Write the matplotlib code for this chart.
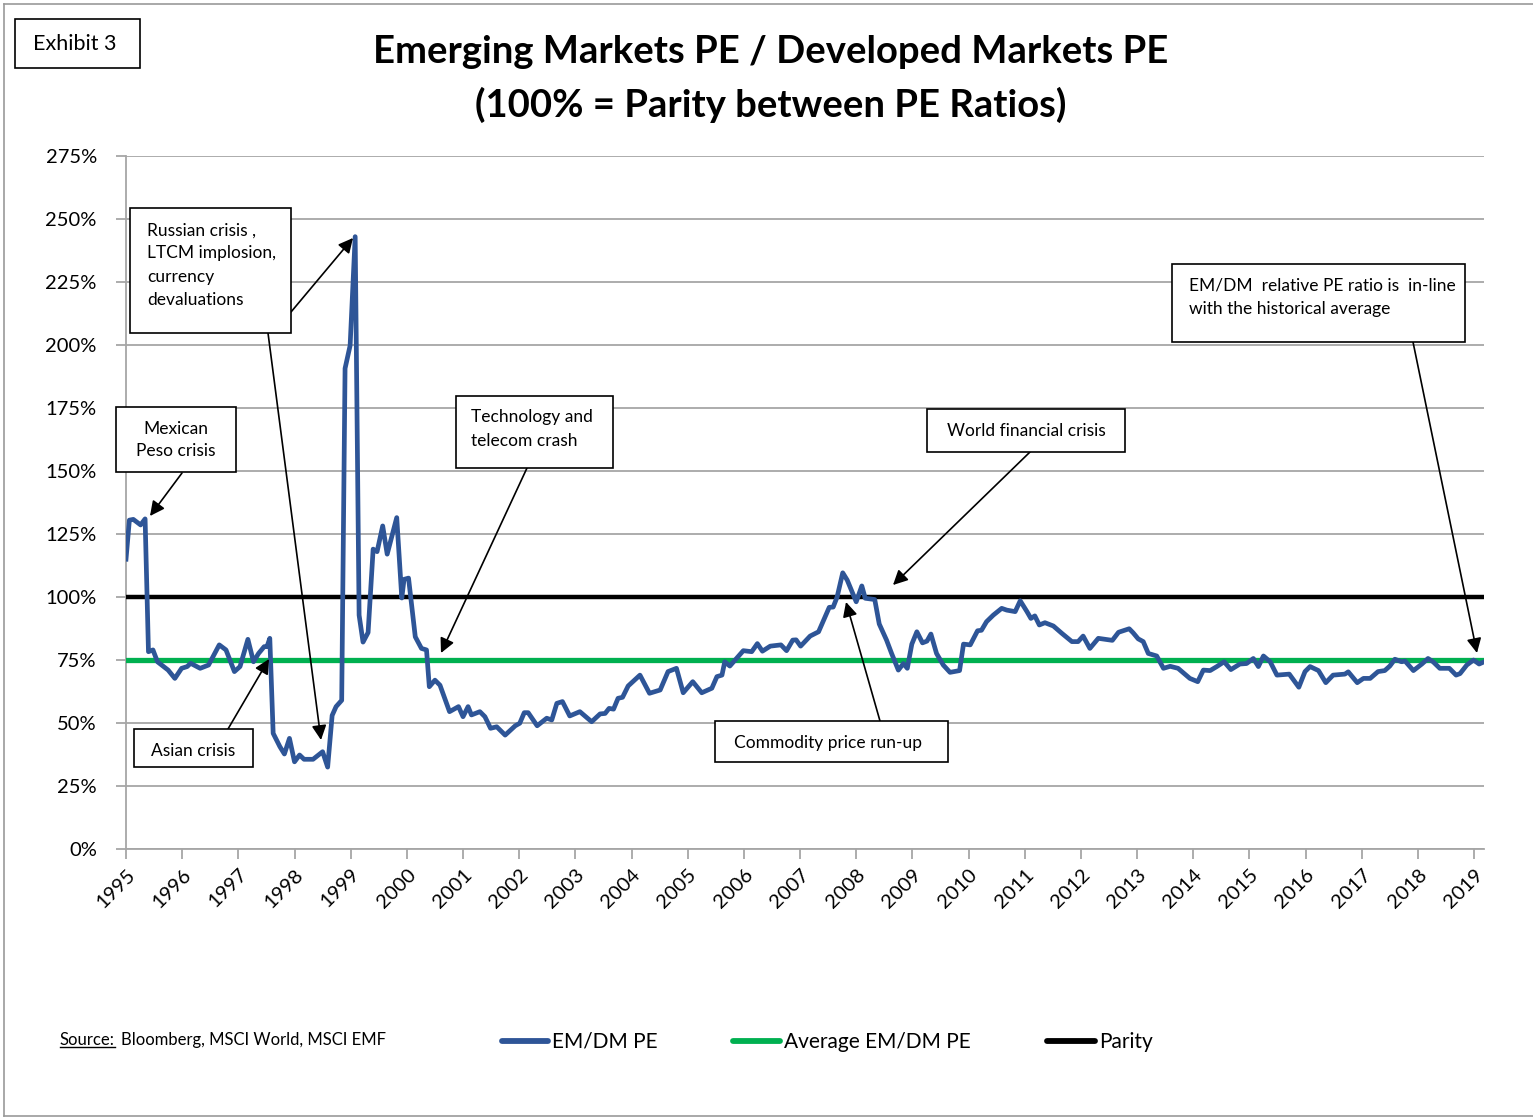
import matplotlib
matplotlib.use("Agg")
import matplotlib.pyplot as plt
from matplotlib.lines import Line2D
from matplotlib.patches import Rectangle
import numpy as np

plt.rcParams['font.family'] = ['Lato', 'DejaVu Sans']

# ---- data (decimal year, EM/DM PE ratio in %) ----
years = [1995.00, 1995.06, 1995.13, 1995.26, 1995.34, 1995.40, 1995.48, 1995.56, 1995.75, 1995.87,
         1995.99, 1996.09, 1996.15, 1996.32, 1996.47, 1996.66, 1996.78, 1996.93, 1997.03, 1997.17,
         1997.27, 1997.36, 1997.46, 1997.51, 1997.56, 1997.62, 1997.74, 1997.82, 1997.91, 1998.00,
         1998.09, 1998.17, 1998.33, 1998.50, 1998.59, 1998.67, 1998.74, 1998.84, 1998.90, 1998.99,
         1999.08, 1999.15, 1999.22, 1999.31, 1999.40, 1999.47, 1999.57, 1999.65, 1999.82, 1999.91,
         1999.95, 2000.03, 2000.15, 2000.26, 2000.35, 2000.40, 2000.50, 2000.59, 2000.76, 2000.92,
         2001.00, 2001.09, 2001.15, 2001.30, 2001.39, 2001.49, 2001.60, 2001.75, 2001.93, 2002.01,
         2002.09, 2002.16, 2002.32, 2002.49, 2002.58, 2002.67, 2002.77, 2002.90, 2003.08, 2003.29,
         2003.44, 2003.53, 2003.60, 2003.68, 2003.76, 2003.84, 2003.94, 2004.15, 2004.32, 2004.51,
         2004.65, 2004.80, 2004.92, 2005.09, 2005.25, 2005.43, 2005.52, 2005.61, 2005.66, 2005.75,
         2005.99, 2006.14, 2006.24, 2006.33, 2006.47, 2006.66, 2006.76, 2006.87, 2006.93, 2007.01,
         2007.18, 2007.33, 2007.52, 2007.59, 2007.66, 2007.76, 2007.84, 2008.00, 2008.10, 2008.16,
         2008.33, 2008.41, 2008.54, 2008.63, 2008.75, 2008.84, 2008.91, 2008.99, 2009.08, 2009.18,
         2009.26, 2009.33, 2009.43, 2009.55, 2009.67, 2009.84, 2009.91, 2010.03, 2010.16, 2010.23,
         2010.32, 2010.44, 2010.59, 2010.68, 2010.83, 2010.92, 2011.04, 2011.11, 2011.18, 2011.26,
         2011.36, 2011.51, 2011.66, 2011.84, 2011.95, 2012.04, 2012.16, 2012.31, 2012.43, 2012.56,
         2012.67, 2012.86, 2012.93, 2013.02, 2013.11, 2013.20, 2013.35, 2013.47, 2013.59, 2013.73,
         2013.94, 2014.08, 2014.18, 2014.30, 2014.42, 2014.55, 2014.67, 2014.83, 2014.95, 2015.07,
         2015.16, 2015.25, 2015.37, 2015.49, 2015.71, 2015.88, 2015.99, 2016.08, 2016.23, 2016.36,
         2016.49, 2016.70, 2016.76, 2016.92, 2017.03, 2017.15, 2017.29, 2017.41, 2017.50, 2017.59,
         2017.71, 2017.77, 2017.92, 2018.07, 2018.18, 2018.27, 2018.39, 2018.56, 2018.68, 2018.75,
         2018.87, 2018.99, 2019.09, 2019.18]
em_dm_pe = [115, 130.5, 130.8, 128.6, 131, 78.3, 79, 74.3, 71, 67.7,
            71.7, 72.4, 73.7, 71.7, 73, 81, 79, 70.4, 72.4, 83.2,
            74.3, 77.6, 80.3, 80.3, 83.6, 45.9, 40.6, 37.7, 43.9, 34.6,
            37.3, 35.6, 35.6, 38.6, 32.5, 53, 56.5, 59, 190.7, 199.8,
            243, 92.8, 82.1, 85.9, 119, 118, 128.2, 117, 131.5, 99.6,
            107, 107.5, 84.2, 79.6, 79, 64.4, 67, 65, 54.5, 56.5,
            52.5, 56.5, 53.2, 54.5, 52.5, 47.9, 48.5, 45.2, 48.9, 49.9,
            54.1, 54.1, 48.9, 51.9, 51.2, 57.8, 58.5, 52.8, 54.5, 50.5,
            53.6, 53.8, 55.8, 55.5, 59.8, 60.2, 64.7, 69, 61.8, 63.1,
            70.4, 71.7, 62, 66.4, 62, 63.8, 68.4, 69, 74.3, 72.6,
            78.7, 78.3, 81.5, 78.5, 80.5, 81, 78.7, 82.9, 83, 80.5,
            84.5, 86.2, 95.9, 96, 100, 109.6, 106.7, 98.1, 104.4, 99.5,
            99, 89.3, 82.9, 77.6, 71, 73.6, 71.7, 81.3, 86.2, 81.8,
            82.5, 85.3, 77.6, 73, 70.1, 70.8, 81.3, 81, 86.6, 86.8,
            90.2, 92.8, 95.5, 94.8, 94.2, 98.5, 94.2, 91.5, 92.5, 88.9,
            89.8, 88.5, 85.6, 82.3, 82.3, 84.5, 79.6, 83.6, 83.2, 82.8,
            86, 87.4, 85.8, 83.4, 82.3, 77.6, 76.6, 71.7, 72.5, 71.7,
            67.7, 66.4, 71, 70.8, 72.4, 74.3, 71.2, 73.4, 73.6, 75.6,
            72.4, 76.6, 74.3, 69, 69.4, 64.2, 70.4, 72.4, 70.8, 66,
            69, 69.4, 70.3, 66, 67.7, 67.7, 70.4, 70.8, 72.6, 75.3,
            74.3, 74.6, 70.8, 73.4, 75.6, 74.3, 71.7, 71.7, 69, 69.6,
            73, 75, 73.4, 74.3]
average_pe = 75
parity = 100
tick_years = list(range(1995, 2020))
y_ticks = [0, 25, 50, 75, 100, 125, 150, 175, 200, 225, 250, 275]

W, H = 1533, 1119
fig = plt.figure(figsize=(W / 100, H / 100), dpi=100)

def fp(x, y):
    return (x / W, 1 - y / H)

ax = fig.add_axes([126 / W, 1 - 849 / H, (1484 - 126) / W, (849 - 156) / H])
x0, x1 = 1995.0, 1995.0 + (1484 - 126) / 56.17
ax.set_xlim(x0, x1)
ax.set_ylim(0, 275)

grid_c = '#A6A6A6'
ax.set_yticks(y_ticks)
ax.set_yticklabels([f"{v}%" for v in y_ticks], fontsize=14.5)
ax.set_xticks(tick_years)
ax.set_xticklabels([str(y) for y in tick_years], rotation=45, ha='right', va='top',
                   rotation_mode='anchor', fontsize=14.5)
ax.yaxis.grid(True, color=grid_c, lw=1.3)
ax.set_axisbelow(True)
for s in ['top', 'right']:
    ax.spines[s].set_visible(False)
for s in ['left', 'bottom']:
    ax.spines[s].set_color(grid_c)
    ax.spines[s].set_linewidth(1.3)
ax.tick_params(axis='both', colors=grid_c, labelcolor='black', length=7, width=1.3)
ax.tick_params(axis='y', pad=14)
ax.tick_params(axis='x', pad=5)

l_em, = ax.plot(years, em_dm_pe, color='#2E5597', lw=3.4, zorder=4, solid_joinstyle='round')
l_avg = ax.axhline(average_pe, color='#00B050', lw=3.8, zorder=3)
l_par = ax.axhline(parity, color='black', lw=3.2, zorder=3)

# ---- figure border ----
fig.add_artist(Line2D([4 / W, 4 / W], [1 - 4 / H, 1 - 1116 / H], color='#999999', lw=1.2))
fig.add_artist(Line2D([4 / W, 1], [1 - 4 / H, 1 - 4 / H], color='#999999', lw=1.2))
fig.add_artist(Line2D([4 / W, 1], [1 - 1116 / H, 1 - 1116 / H], color='#999999', lw=1.2))

# ---- Exhibit box ----
def box(x0p, y0p, x1p, y1p, lw=1.2):
    fig.add_artist(Rectangle(fp(x0p, y1p), (x1p - x0p) / W, (y1p - y0p) / H,
                             transform=fig.transFigure, fill=True, facecolor='white',
                             edgecolor='black', lw=lw, zorder=5))

box(15, 19, 140, 68)
fig.text(*fp(75, 44), "Exhibit 3", ha='center', va='center', fontsize=15.5, zorder=6)

# ---- title ----
fig.text(*fp(771, 52), "Emerging Markets PE / Developed Markets PE", ha='center', va='center',
         fontsize=27.5, fontweight='bold')
fig.text(*fp(771, 105), "(100% = Parity between PE Ratios)", ha='center', va='center',
         fontsize=27.5, fontweight='bold')

# ---- annotations ----
def to_data(xp, yp):
    return (1995 + (xp - 126) / 56.17, (849 - yp) * 275 / 693)

def arrow(xs, ys, xe, ye):
    ax.annotate("", xy=to_data(xe, ye), xycoords='data',
                xytext=fp(xs, ys), textcoords='figure fraction',
                arrowprops=dict(arrowstyle='-|>', color='black', lw=1.2,
                                mutation_scale=22, shrinkA=0, shrinkB=0),
                zorder=7, annotation_clip=False)

ann_fs = 12.5
# Mexican Peso crisis
box(116, 407, 236, 472)
fig.text(*fp(176, 440), "Mexican\nPeso crisis", ha='center', va='center', fontsize=ann_fs,
         linespacing=1.45, zorder=6)
arrow(182, 473, 150, 516)
# Russian crisis
box(130, 208, 291, 333)
fig.text(*fp(147, 265), "Russian crisis ,\nLTCM implosion,\ncurrency\ndevaluations", ha='left',
         va='center', fontsize=ann_fs, linespacing=1.55, zorder=6)
arrow(291, 312, 353, 238)
arrow(268, 333, 321, 740)
# Technology
box(456, 396, 613, 468)
fig.text(*fp(471, 429), "Technology and\ntelecom crash", ha='left', va='center', fontsize=ann_fs,
         linespacing=1.55, zorder=6)
arrow(527, 468, 441, 653)
# World financial crisis
box(927, 409, 1125, 452)
fig.text(*fp(1026, 431), "World financial crisis", ha='center', va='center', fontsize=ann_fs,
         zorder=6)
arrow(1030, 452, 893, 585)
# EM/DM relative
box(1172, 264, 1465, 342)
fig.text(*fp(1189, 297), "EM/DM  relative PE ratio is  in-line\nwith the historical average",
         ha='left', va='center', fontsize=ann_fs, linespacing=1.55, zorder=6)
arrow(1413, 342, 1477, 653)
# Asian crisis
box(134, 729, 253, 767)
fig.text(*fp(193, 751), "Asian crisis", ha='center', va='center', fontsize=ann_fs, zorder=6)
arrow(228, 729, 269, 659)
# Commodity
box(715, 721, 948, 762)
fig.text(*fp(828, 743), "Commodity price run-up", ha='center', va='center', fontsize=ann_fs,
         zorder=6)
arrow(880, 721, 846, 602)

# ---- source and legend ----
src = fig.text(*fp(60, 1040), "Source:", ha='left', va='center', fontsize=12)
fig.canvas.draw()
r = fig.canvas.get_renderer()
bb = src.get_window_extent(renderer=r)
fig.add_artist(Line2D([bb.x0 / W, bb.x1 / W], [(bb.y0 + 1) / H, (bb.y0 + 1) / H],
                      color='black', lw=1.0))
fig.text((bb.x1 + 6) / W, 1 - 1040 / H, "Bloomberg, MSCI World, MSCI EMF", ha='left',
         va='center', fontsize=12)

leg_items = [(l_em, "EM/DM PE", 502, 548), (l_avg, "Average EM/DM PE", 733, 780),
             (l_par, "Parity", 1047, 1095)]
for ln, lab, xa, xb in leg_items:
    fig.add_artist(Line2D([xa / W, xb / W], [1 - 1041 / H, 1 - 1041 / H], color=ln.get_color(),
                          lw=4.2, solid_capstyle='round'))
    fig.text((xb + 4) / W, 1 - 1042 / H, lab, ha='left', va='center', fontsize=15)

fig.savefig("out.png", dpi=100, facecolor='white')
